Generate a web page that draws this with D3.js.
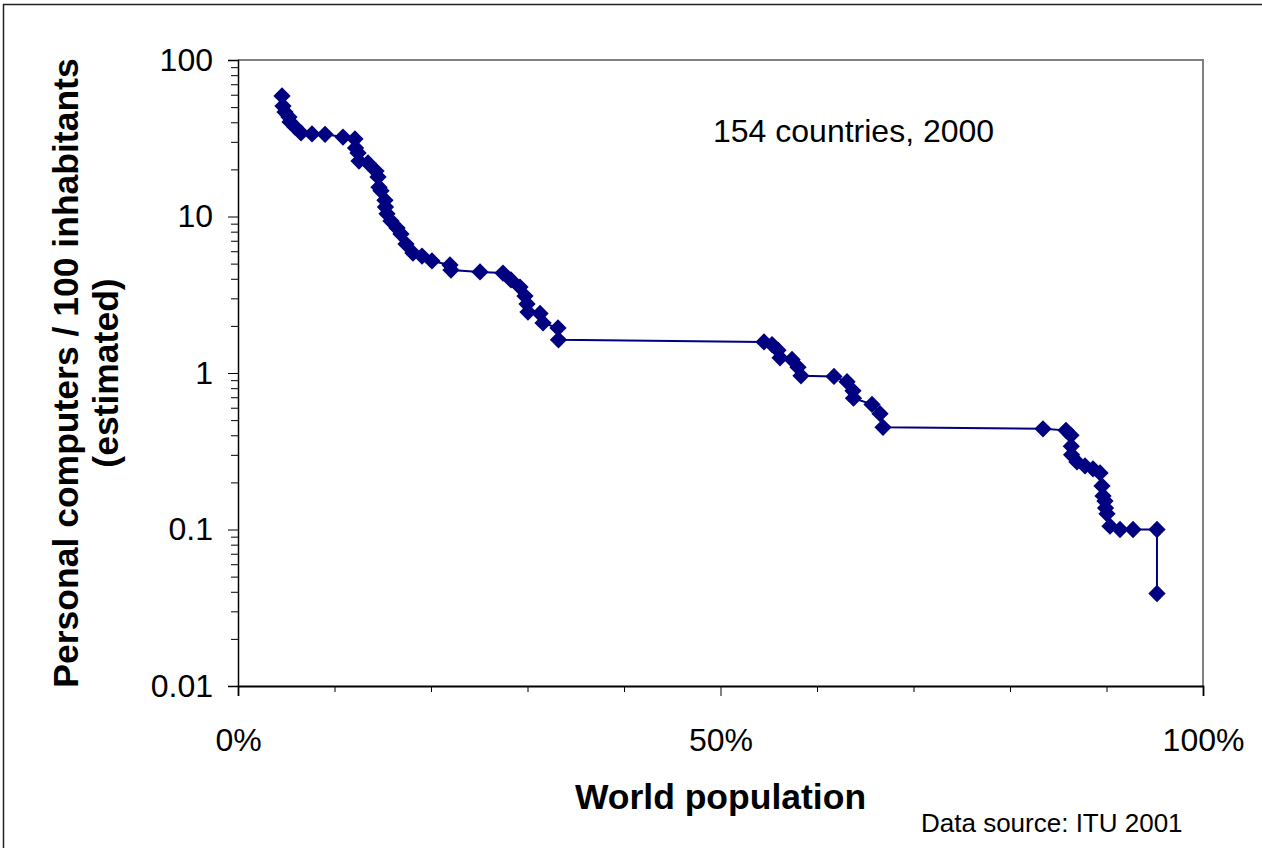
<!DOCTYPE html>
<html>
<head>
<meta charset="utf-8">
<script src="https://cdn.jsdelivr.net/npm/d3@7"></script>
<style>
  html, body { margin: 0; padding: 0; background: #fff; }
  svg { display: block; font-family: "Liberation Sans", Arial, sans-serif; }
</style>
</head>
<body>
<svg id="chart" width="1262" height="848"></svg>
<script>
// Cumulative share of world population (%) once each country is added,
// countries ordered from highest to lowest PC density.
const popShare = [
  4.56, 4.66, 4.87, 5.28, 5.39, 5.91, 6.53, 7.67, 9.02, 10.88,
  12.12, 12.18, 12.44, 12.54, 13.47, 14.30, 14.51, 14.61, 14.82, 15.23,
  15.28, 15.44, 15.85, 16.48, 16.89, 17.41, 18.13, 19.07, 20.10, 21.97,
  22.07, 25.08, 27.46, 28.29, 29.22, 29.74, 29.95, 30.05, 31.30, 31.61,
  33.16, 33.21, 54.51, 55.34, 55.96, 56.17, 57.41, 58.03, 58.34, 61.76,
  63.11, 63.73, 63.78, 65.70, 66.53, 66.84, 83.42, 85.80, 86.32, 86.35,
  86.38, 86.94, 87.77, 88.60, 89.33, 89.53, 89.64, 89.84, 89.90, 90.05,
  90.36, 91.40, 92.75, 95.23, 95.23
];
// Personal computers per 100 inhabitants for the same countries.
const pcPer100 = [
  58.9, 50.8, 46.5, 43.2, 40.2, 37.3, 34.2, 33.7, 33.5, 32.2,
  31.3, 27.4, 25.5, 22.6, 22.0, 19.5, 17.9, 15.4, 14.6, 12.7,
  11.5, 10.4, 9.36, 8.45, 7.73, 6.67, 5.84, 5.59, 5.20, 4.90,
  4.55, 4.42, 4.35, 3.93, 3.54, 3.10, 2.76, 2.45, 2.40, 2.09,
  1.94, 1.63, 1.58, 1.52, 1.40, 1.25, 1.22, 1.09, 0.96, 0.95,
  0.88, 0.77, 0.69, 0.63, 0.55, 0.45, 0.44, 0.43, 0.40, 0.34,
  0.30, 0.27, 0.255, 0.244, 0.23, 0.19, 0.164, 0.152, 0.137, 0.126,
  0.105, 0.10, 0.10, 0.10, 0.039
];

const xMajorTicks = [0, 50, 100];
const xMajorLabels = ["0%", "50%", "100%"];
const xMinorTicks = [10, 20, 30, 40, 60, 70, 80, 90];
const yMajorTicks = [0.01, 0.1, 1, 10, 100];
const yMajorLabels = ["0.01", "0.1", "1", "10", "100"];

const yTitleLines = ["Personal computers / 100 inhabitants", "(estimated)"];
const xTitle = "World population";
const noteText = "154 countries, 2000";
const sourceText = "Data source: ITU 2001";

const points = popShare.map((p, i) => ({ pop: p, pc: pcPer100[i] }));

const svg = d3.select("#chart");
const plot = { left: 238, right: 1203, top: 60, bottom: 686 };
const navy = "#000080";

const x = d3.scaleLinear().domain([0, 100]).range([plot.left, plot.right]);
const y = d3.scaleLog().domain([0.01, 100]).range([plot.bottom, plot.top]);

// Outer frame
svg.append("rect")
  .attr("x", 3.5).attr("y", 4.5)
  .attr("width", 1300).attr("height", 900)
  .attr("fill", "#fff")
  .attr("stroke", "#222").attr("stroke-width", 1.5);

// Plot-area frame: grey top and right edges
svg.append("path")
  .attr("d", `M${plot.left},${plot.top}H${plot.right}V${plot.bottom}`)
  .attr("fill", "none")
  .attr("stroke", "#808080").attr("stroke-width", 2);

// Y axis: decade ticks with labels, plus minor ticks 2..9 per decade
const yMinorTicks = [];
[0.01, 0.1, 1, 10].forEach(base => {
  for (let k = 2; k <= 9; k++) yMinorTicks.push(base * k);
});

const yMinor = svg.append("g")
  .attr("transform", `translate(${plot.left},0)`)
  .call(d3.axisLeft(y).tickValues(yMinorTicks).tickSize(7).tickFormat(""));
yMinor.select(".domain").remove();

const yMajor = svg.append("g")
  .attr("transform", `translate(${plot.left},0)`)
  .call(d3.axisLeft(y).tickValues(yMajorTicks).tickSize(10).tickPadding(15)
    .tickFormat((d, i) => yMajorLabels[i]));
yMajor.select(".domain").attr("stroke", "#000").attr("stroke-width", 1.5);

// X axis: labelled ticks every 50%, minor ticks every 10%
const xMinor = svg.append("g")
  .attr("transform", `translate(0,${plot.bottom})`)
  .call(d3.axisBottom(x).tickValues(xMinorTicks).tickSize(6).tickFormat(""));
xMinor.select(".domain").remove();

const xMajor = svg.append("g")
  .attr("transform", `translate(0,${plot.bottom})`)
  .call(d3.axisBottom(x).tickValues(xMajorTicks).tickSize(10).tickPadding(32)
    .tickFormat((d, i) => xMajorLabels[i]));
xMajor.select(".domain").attr("stroke", "#000").attr("stroke-width", 1.8);

svg.selectAll(".tick line").attr("stroke", "#000").attr("stroke-width", 1);
svg.selectAll(".tick text")
  .attr("fill", "#000")
  .style("font-size", "32px")
  .style("font-family", "'Liberation Sans', Arial, sans-serif");

// Series line and diamond markers
const line = d3.line().x(d => x(d.pop)).y(d => y(d.pc));
svg.append("path")
  .datum(points)
  .attr("d", line)
  .attr("fill", "none")
  .attr("stroke", navy)
  .attr("stroke-width", 2);

const diamond = d3.symbol().type(d3.symbolDiamond2).size(190);
svg.append("g").selectAll("path")
  .data(points)
  .join("path")
  .attr("d", diamond)
  .attr("transform", d => `translate(${x(d.pop)},${y(d.pc)})`)
  .attr("fill", navy);

// Titles and notes
svg.append("text")
  .attr("x", (plot.left + plot.right) / 2)
  .attr("y", 809)
  .attr("text-anchor", "middle")
  .style("font-size", "35.5px")
  .style("font-weight", "bold")
  .text(xTitle);

const yTitle = svg.append("text")
  .attr("transform", `translate(78,${(plot.top + plot.bottom) / 2}) rotate(-90)`)
  .attr("text-anchor", "middle")
  .style("font-size", "35.5px")
  .style("font-weight", "bold");
yTitle.selectAll("tspan")
  .data(yTitleLines)
  .join("tspan")
  .attr("x", 0)
  .attr("dy", (d, i) => i === 0 ? 0 : 40)
  .text(d => d);

svg.append("text")
  .attr("x", 713).attr("y", 142)
  .style("font-size", "32px")
  .text(noteText);

svg.append("text")
  .attr("x", 921).attr("y", 832)
  .style("font-size", "26px")
  .text(sourceText);
</script>
</body>
</html>
